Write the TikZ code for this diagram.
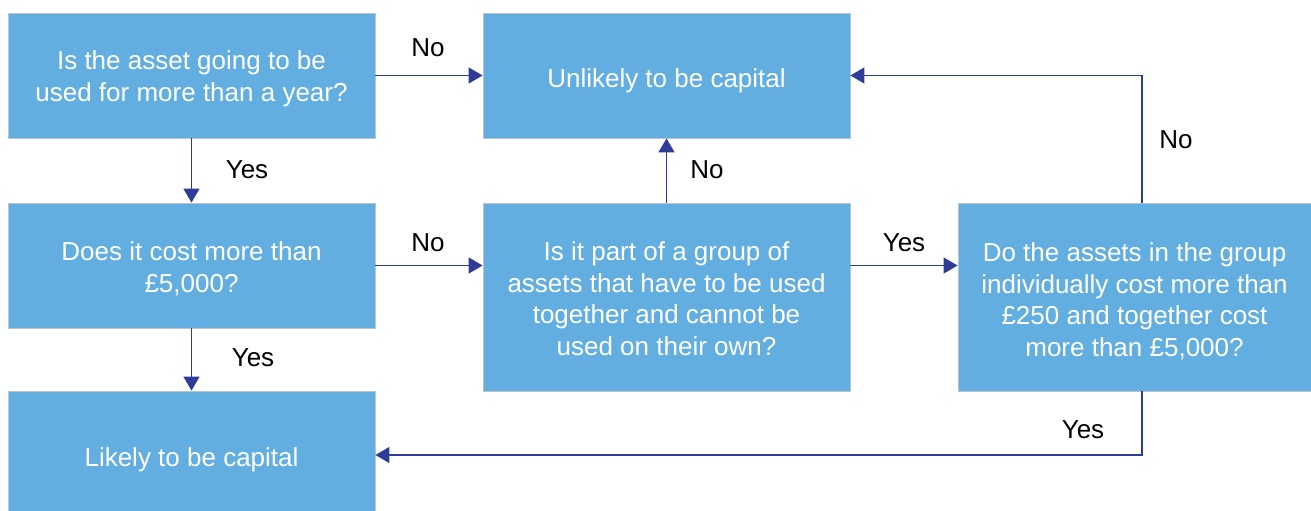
\documentclass[tikz,border=0pt]{standalone}
\usepackage{fontspec}
\setmainfont{Liberation Sans}
\usetikzlibrary{arrows.meta,calc}
\definecolor{boxblue}{HTML}{63AEE0}
\definecolor{boxedge}{HTML}{B8C4CE}
\definecolor{arrowblue}{HTML}{2E3C98}
\begin{document}
\begin{tikzpicture}[x=1pt,y=-1pt,
  box/.style={draw=boxedge,line width=0.8pt,fill=boxblue,inner sep=0pt},
  boxtext/.style={text=white,align=center,inner sep=0pt,
    font=\fontsize{26}{31.5}\selectfont,yshift=-#1},
  lbl/.style={text=black,font=\fontsize{26}{32}\selectfont,inner sep=0pt},
  conn/.style={draw=arrowblue,line width=1.4pt,-{Triangle[length=14pt,width=16pt]}}]
\useasboundingbox (0,0) rectangle (1311,511);
\node[box,minimum width=367pt,minimum height=125pt,
  label={[boxtext=3.5pt]center:Is the asset going to be\\used for more than a year?}] (A) at (191.5,75.5) {};
\node[box,minimum width=367pt,minimum height=125pt,
  label={[boxtext=5pt]center:Unlikely to be capital}] (B) at (666.5,75.5) {};
\node[box,minimum width=367pt,minimum height=125pt,
  label={[boxtext=3pt]center:Does it cost more than\\£5,000?}] (C) at (191.5,265.5) {};
\node[box,minimum width=367pt,minimum height=188pt,
  label={[boxtext=1.5pt]center:Is it part of a group of\\assets that have to be used\\together and cannot be\\used on their own?}] (D) at (666.5,297) {};
\node[box,minimum width=353pt,minimum height=188pt,
  label={[boxtext=4pt]center:Do the assets in the group\\individually cost more than\\£250 and together cost\\more than £5,000?}] (E) at (1134.5,297) {};
\node[box,minimum width=367pt,minimum height=120pt,
  label={[boxtext=9pt]center:Likely to be capital}] (F) at (191.5,451) {};
\coordinate (Etop) at ($(E.north)+(7.5,0)$);
\coordinate (Ebot) at ($(E.south)+(7.5,0)$);
\coordinate (Fin) at ($(F.east)+(0,4)$);
\draw[conn] (A.east) -- (B.west);
\draw[conn] (A.south) -- (C.north);
\draw[conn] (C.south) -- (F.north);
\draw[conn] (C.east) -- (D.west |- C.east);
\draw[conn] (D.east |- C.east) -- (E.west |- C.east);
\draw[conn] (D.north) -- (B.south);
\draw[conn] (Etop) |- (B.east);
\draw[conn] (Ebot) |- (Fin);
\node[lbl] (l1) at (428,48) {No};
\node[lbl] (l2) at (247,170) {Yes};
\node[lbl] (l3) at (707,170) {No};
\node[lbl] (l4) at (1176,140) {No};
\node[lbl] (l5) at (428,243) {No};
\node[lbl] (l6) at (904,243) {Yes};
\node[lbl] (l7) at (253,358) {Yes};
\node[lbl] (l8) at (1083,430) {Yes};
\end{tikzpicture}
\end{document}
